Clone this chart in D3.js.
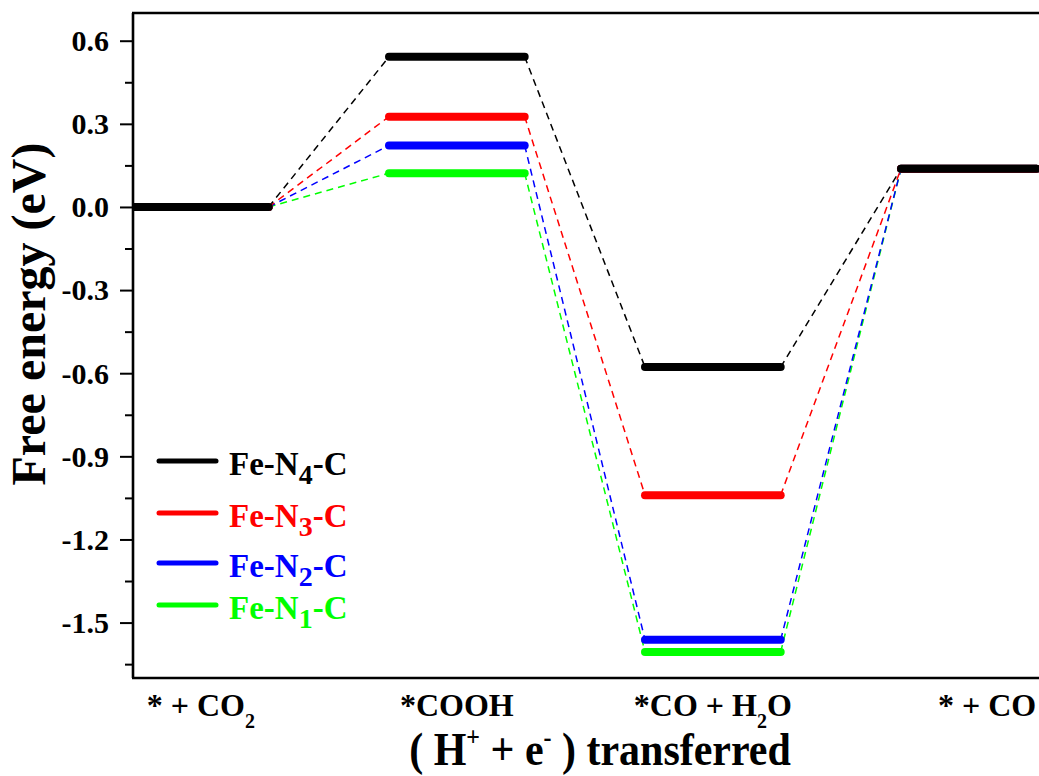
<!DOCTYPE html>
<html>
<head>
<meta charset="utf-8">
<script src="https://cdn.jsdelivr.net/npm/d3@7"></script>
<style>
  body { margin: 0; background: #fff; }
  text { font-family: "Liberation Serif", "Times New Roman", serif; font-weight: bold; }
</style>
</head>
<body>
<script>
// reaction steps, "_" marks a subscript digit
var categories = ["* + CO_2", "*COOH", "*CO + H_2O", "* + CO"];

var seriesNames = ["Fe-N_4-C", "Fe-N_3-C", "Fe-N_2-C", "Fe-N_1-C"];
var seriesColors = ["#000000", "#ff0000", "#0000ff", "#00ff00"];

// free energy (eV) at each step
var feN4 = [0, 0.542, -0.578, 0.138];
var feN3 = [0, 0.326, -1.040, 0.138];
var feN2 = [0, 0.222, -1.562, 0.138];
var feN1 = [0, 0.122, -1.606, 0.138];

var majorTicks = [-1.5, -1.2, -0.9, -0.6, -0.3, 0.0, 0.3, 0.6];
var minorTicks = [-1.65, -1.35, -1.05, -0.75, -0.45, -0.15, 0.15, 0.45];

var series = [
  { name: seriesNames[0], color: seriesColors[0], values: feN4 },
  { name: seriesNames[1], color: seriesColors[1], values: feN3 },
  { name: seriesNames[2], color: seriesColors[2], values: feN2 },
  { name: seriesNames[3], color: seriesColors[3], values: feN1 }
];

var W = 1039, H = 776;
var mLeft = 133, mTop = 13, mBottom = 678;
var levelW = 1.06; // width of a level, in step units (one step = 2 units)

var svg = d3.select("body").append("svg")
            .attr("width", W)
            .attr("height", H);

var x = d3.scaleLinear().domain([0, 8]).range([mLeft, mLeft + 1024]);
var y = d3.scaleLinear().domain([-1.7, 0.7]).range([mBottom, mTop]);

// writes "A_2B" as text with a lowered small digit
function richText(sel, str, subSize, subDy) {
  var parts = str.split(/_(\d)/);
  parts.forEach(function(p, i) {
    if (p === "") return;
    if (i % 2 == 1) {
      sel.append("tspan").attr("font-size", subSize).attr("dy", subDy).text(p);
    } else {
      var t = sel.append("tspan").text(p);
      if (i > 0) t.attr("dy", -subDy);
    }
  });
}

// dashed connectors, drawn first
var drawOrder = series.slice().reverse();
drawOrder.forEach(function(s) {
  for (var i = 0; i < s.values.length - 1; i++) {
    svg.append("line")
       .attr("x1", x(2 * i + levelW)).attr("y1", y(s.values[i]))
       .attr("x2", x(2 * (i + 1))).attr("y2", y(s.values[i + 1]))
       .style("stroke", s.color)
       .style("stroke-width", 1.5)
       .style("stroke-dasharray", "7,5");
  }
});

// energy levels
drawOrder.forEach(function(s) {
  s.values.forEach(function(v, i) {
    svg.append("line")
       .attr("x1", x(2 * i)).attr("y1", y(v))
       .attr("x2", x(2 * i + levelW)).attr("y2", y(v))
       .style("stroke", s.color)
       .style("stroke-width", 8)
       .style("stroke-linecap", "round");
  });
});

// white mask left of the axis so the first level's cap is hidden
svg.append("rect").attr("x", 0).attr("y", 0).attr("width", mLeft - 1).attr("height", H).style("fill", "#fff");

var yAxis = svg.append("g")
               .attr("transform", "translate(" + mLeft + ",0)")
               .call(d3.axisLeft(y).tickValues(majorTicks).tickSize(13).tickPadding(11)
                       .tickFormat(function(d) { return d.toFixed(1); }));
yAxis.select(".domain").remove();
yAxis.selectAll(".tick line").style("stroke-width", 2);
yAxis.selectAll(".tick text")
     .style("font-family", '"Liberation Serif", "Times New Roman", serif')
     .style("font-weight", "bold")
     .style("font-size", "30px")
     .attr("dy", "0.33em")
     .style("fill", "#000");

var yMinor = svg.append("g")
                .attr("transform", "translate(" + mLeft + ",0)")
                .call(d3.axisLeft(y).tickValues(minorTicks).tickSize(8).tickFormat(""));
yMinor.select(".domain").remove();
yMinor.selectAll(".tick line").style("stroke-width", 2);

svg.append("line").attr("x1", mLeft).attr("y1", mTop).attr("x2", mLeft).attr("y2", mBottom)
   .style("stroke", "#000").style("stroke-width", 2.6);
svg.append("line").attr("x1", mLeft - 1).attr("y1", mTop).attr("x2", W).attr("y2", mTop)
   .style("stroke", "#000").style("stroke-width", 2.6);
svg.append("line").attr("x1", mLeft - 1).attr("y1", mBottom).attr("x2", W).attr("y2", mBottom)
   .style("stroke", "#000").style("stroke-width", 2.6);

// step labels under the axis
categories.forEach(function(c, i) {
  var t = svg.append("text")
             .attr("y", 716)
             .style("font-size", "32px")
             .style("fill", "#000");
  if (i == categories.length - 1) {
    // last label is cut by the right edge
    t.attr("x", x(2 * i) + 37).attr("text-anchor", "start");
  } else {
    t.attr("x", x(2 * i + levelW / 2)).attr("text-anchor", "middle");
  }
  richText(t, c, "20px", 12);
});

// axis titles
var xt = svg.append("text")
            .attr("transform", "translate(600,765) scale(1,1.1)")
            .attr("text-anchor", "middle")
            .style("font-size", "42px")
            .style("fill", "#000");
xt.append("tspan").text("( H");
xt.append("tspan").attr("font-size", "24px").attr("dy", -17).text("+");
xt.append("tspan").attr("dy", 17).text(" + e");
xt.append("tspan").attr("font-size", "24px").attr("dy", -17).text("-");
xt.append("tspan").attr("dy", 17).text(" ) transferred");

svg.append("text")
   .attr("transform", "translate(45,314) rotate(-90)")
   .attr("text-anchor", "middle")
   .style("font-size", "48px")
   .style("fill", "#000")
   .text("Free energy (eV)");

// legend
var legend = svg.append("g");
var legendY = [461, 513, 563, 605];
series.forEach(function(s, i) {
  legend.append("line")
        .attr("x1", 159).attr("x2", 216)
        .attr("y1", legendY[i]).attr("y2", legendY[i])
        .style("stroke", s.color)
        .style("stroke-width", 5)
        .style("stroke-linecap", "round");
  var t = legend.append("text")
                .attr("x", 229).attr("y", legendY[i] + 14)
                .style("font-size", "33px")
                .style("fill", s.color);
  richText(t, s.name, "28px", 9);
});
</script>
</body>
</html>
